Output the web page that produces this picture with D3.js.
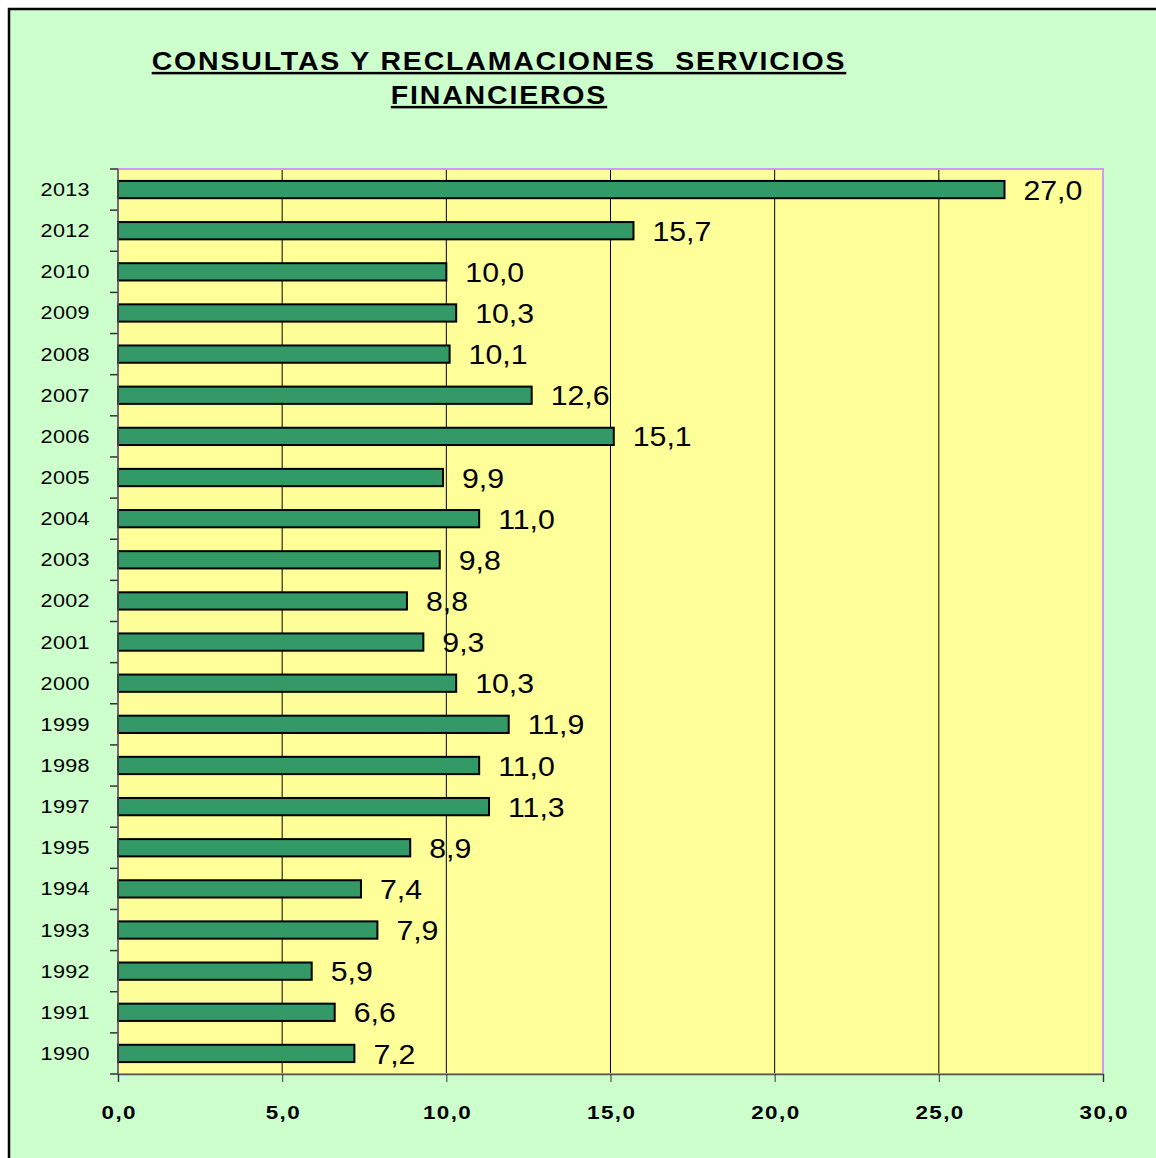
<!DOCTYPE html>
<html>
<head>
<meta charset="utf-8">
<script src="https://cdn.jsdelivr.net/npm/d3@7.9.0/dist/d3.min.js"></script>
<style>
  body { margin: 0; background: #fff; }
  svg { display: block; font-family: "Liberation Sans", Arial, sans-serif; }
</style>
</head>
<body>
<svg width="1156" height="1158"></svg>
<script>
const years = ["2013","2012","2010","2009","2008","2007","2006","2005","2004","2003","2002","2001","2000","1999","1998","1997","1995","1994","1993","1992","1991","1990"];
const values = [27.0,15.7,10.0,10.3,10.1,12.6,15.1,9.9,11.0,9.8,8.8,9.3,10.3,11.9,11.0,11.3,8.9,7.4,7.9,5.9,6.6,7.2];
const xTicks = [0,5,10,15,20,25,30];
const titleLines = ["CONSULTAS Y RECLAMACIONES  SERVICIOS", "FINANCIEROS"];

const svg = d3.select("svg");
const margin = {top: 169, left: 118, right: 1156 - 1103, bottom: 1158 - 1074};
const width = 1103 - margin.left, height = 1074 - margin.top;
const fmt = v => v.toFixed(1).replace(".", ",");

// outer frame
svg.append("rect")
  .attr("x", 9).attr("y", 9).attr("width", 1160).attr("height", 1160)
  .attr("fill", "#ccffcc").attr("stroke", "#000").attr("stroke-width", 2.5);

// title (stretched horizontally like the original)
titleLines.forEach((t, i) => {
  svg.append("text")
    .attr("transform", `translate(499,${70 + i * 34}) scale(1.14,1)`)
    .attr("text-anchor", "middle")
    .attr("font-weight", "bold")
    .attr("font-size", 25)
    .attr("letter-spacing", 1.6)
    .style("white-space", "pre")
    .attr("text-decoration", "underline")
    .text(t);
});

const g = svg.append("g").attr("transform", `translate(${margin.left},${margin.top})`);

const x = d3.scaleLinear().domain([0, 30]).range([0, width]);
const y = d3.scaleBand().domain(years).range([0, height]).paddingInner(0.58).paddingOuter(0.29);

g.append("rect")
  .attr("width", width).attr("height", height)
  .attr("fill", "#ffff99");

// gridlines
g.selectAll(".grid").data(xTicks.filter(d => d > 0 && d < 30)).join("line")
  .attr("x1", d => x(d)).attr("x2", d => x(d))
  .attr("y1", 0).attr("y2", height)
  .attr("stroke", "#000").attr("stroke-width", 1);

g.append("rect")
  .attr("width", width).attr("height", height)
  .attr("fill", "none").attr("stroke", "#cc99ff").attr("stroke-width", 2);

// bars
g.selectAll(".bar").data(years).join("rect")
  .attr("x", x(0))
  .attr("y", d => y(d))
  .attr("width", (d, i) => x(values[i]))
  .attr("height", y.bandwidth())
  .attr("fill", "#339966").attr("stroke", "#000").attr("stroke-width", 2);

// value labels
g.selectAll(".val").data(years).join("text")
  .attr("transform", (d, i) => `translate(${x(values[i]) + 19},${y(d) + y.bandwidth() / 2}) scale(1.08,1)`)
  .attr("dy", "0.36em")
  .attr("font-size", 28)
  .text((d, i) => fmt(values[i]));

// x axis
const xAxis = g.append("g").attr("transform", `translate(0,${height})`)
  .call(d3.axisBottom(x).tickValues(xTicks).tickFormat(fmt).tickSize(8).tickPadding(24));
xAxis.select(".domain").attr("stroke", "#555").attr("stroke-width", 1.5);
xAxis.selectAll("line").attr("stroke", "#333");
xAxis.selectAll("text").attr("font-family", "Liberation Sans, Arial, sans-serif")
  .attr("font-size", 19).attr("font-weight", "bold").attr("fill", "#000")
  .attr("transform", "scale(1.18,1)")
  .attr("letter-spacing", 1.2).attr("dx", 0.6);

// y axis: ticks at category boundaries
const step = y.step();
const yBounds = d3.range(years.length + 1).map(i => i * step);
g.selectAll(".ytick").data(yBounds).join("line")
  .attr("x1", -8).attr("x2", 0)
  .attr("y1", d => d).attr("y2", d => d)
  .attr("stroke", "#333").attr("stroke-width", 1.5);
g.append("line").attr("x1", 0).attr("x2", 0).attr("y1", 0).attr("y2", height)
  .attr("stroke", "#555").attr("stroke-width", 1.5);

g.selectAll(".ylab").data(years).join("text")
  .attr("transform", d => `translate(-28,${y(d) + y.bandwidth() / 2}) scale(1.2,1)`)
  .attr("dy", "0.36em")
  .attr("text-anchor", "end")
  .attr("font-size", 18)
  .attr("letter-spacing", 0.3)
  .text(d => d);
</script>
</body>
</html>
